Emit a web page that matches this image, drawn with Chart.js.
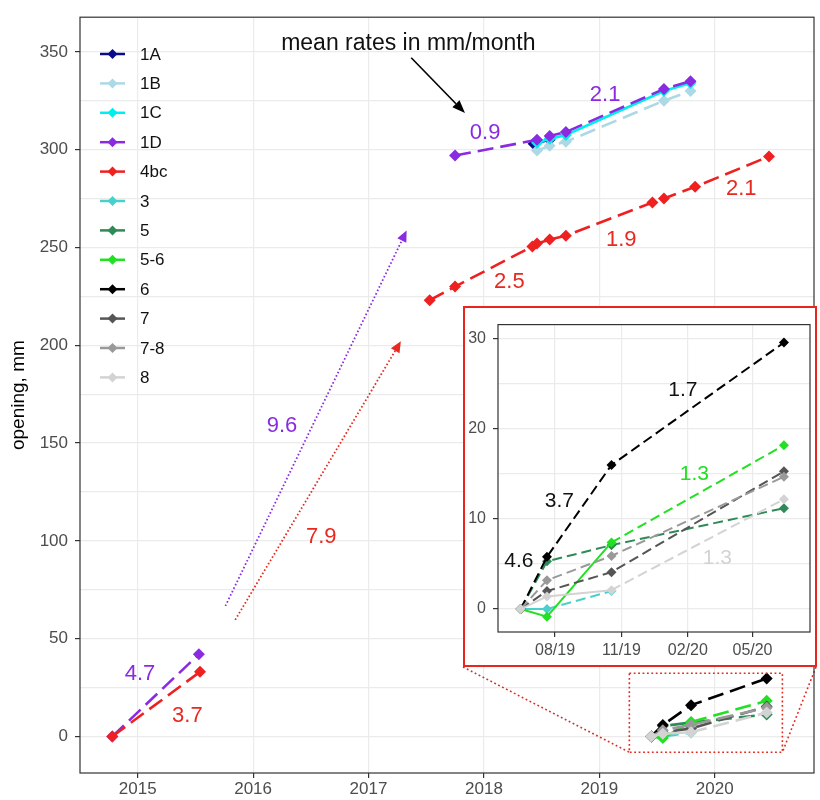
<!DOCTYPE html>
<html><head><meta charset="utf-8">
<script src="https://cdn.jsdelivr.net/npm/chart.js@4"></script>
<style>
html,body{margin:0;padding:0;background:#fff;}
#wrap{position:relative;width:820px;height:800px;overflow:hidden;}
#main{position:absolute;left:0;top:0;}
#insetBox{position:absolute;left:463px;top:306px;width:354px;height:361px;box-sizing:border-box;border:2px solid #E8261E;background:#fff;}
#inset{position:absolute;left:0;top:0;}
</style></head><body>
<div id="wrap">
<canvas id="main" width="820" height="800"></canvas>
<div id="insetBox"><canvas id="inset" width="350" height="357"></canvas></div>
</div>
<script>
// ---------------- data ----------------
const seriesNames = ['1A','1B','1C','1D','4bc','3','5','5-6','6','7','7-8','8'];
const x1A = [2018.43, 2018.57];
const y1A = [303, 305];
const x1B = [2018.46, 2018.57, 2018.71, 2019.56, 2019.79];
const y1B = [299.5, 302, 304, 325, 330];
const x1C = [2018.46, 2018.57, 2018.71, 2019.56, 2019.79];
const y1C = [303.5, 305.5, 307.5, 330, 334];
const x1D = [2014.78, 2015.53, 2017.75, 2018.46, 2018.57, 2018.71, 2019.56, 2019.79];
const y1D = [0, 42, 297, 305, 307, 309, 331, 335];
const x4bc = [2014.78, 2015.54, 2017.53, 2017.75, 2018.42, 2018.46, 2018.57, 2018.71, 2019.46, 2019.56, 2019.83, 2020.47];
const y4bc = [0, 33, 223, 230, 250.5, 252, 254, 256, 273, 275, 281, 296.5];
const xSite = [2019.45, 2019.55, 2019.795, 2020.45];
const y3  = [0, 0, 2.0];
const y5  = [0, 5.3, 7.1, 11.2];
const y56 = [0, -0.85, 7.4, 18.2];
const y6  = [0, 5.8, 16, 29.6];
const y7  = [0, 2.0, 4.1, 15.3];
const y78 = [0, 3.2, 5.9, 14.7];
const y8  = [0, 1.4, 2.1, 12.2];

const yearTicks = [2015, 2016, 2017, 2018, 2019, 2020];
const mainYTicks = [0, 25, 50, 75, 100, 125, 150, 175, 200, 225, 250, 275, 300, 325, 350];
const mainYLabelled = [0, 50, 100, 150, 200, 250, 300, 350];
const insetXTicks = [2019.5808, 2019.8329, 2020.0847, 2020.3306];
const insetXLabels = ['08/19', '11/19', '02/20', '05/20'];
const insetYTicks = [0, 5, 10, 15, 20, 25, 30];
const insetYLabelled = [0, 10, 20, 30];

// ---------------- styles ----------------
const seriesColors = ['#0B0B8A','#ADD8E6','#00EEEE','#8A2BE2','#EE2020','#48D1CC','#2E8B57','#22E022','#000000','#555555','#999999','#D3D3D3'];
const solidSegs = {'1A':'all','1C':'all','3':[0],'5-6':[0,1],'8':[0,1]};
const PURPLE = '#8A2BE2', RED = '#E8291F';
const FONT = '"Liberation Sans", Arial, sans-serif';

const seriesXY = {
  '1A':[x1A,y1A], '1B':[x1B,y1B], '1C':[x1C,y1C], '1D':[x1D,y1D], '4bc':[x4bc,y4bc],
  '3':[xSite,y3], '5':[xSite,y5], '5-6':[xSite,y56], '6':[xSite,y6], '7':[xSite,y7], '7-8':[xSite,y78], '8':[xSite,y8]
};
const insetSeries = ['3','5','5-6','6','7','7-8','8'];

function makeDataset(name, idx, lw, r, dash) {
  const [xs, ys] = seriesXY[name];
  const color = seriesColors[idx];
  const solid = solidSegs[name];
  return {
    label: name,
    data: ys.map((y, i) => ({x: xs[i], y})),
    borderColor: color, backgroundColor: color,
    borderWidth: lw, borderCapStyle: 'butt',
    pointStyle: 'rectRot', pointRadius: r, pointHoverRadius: r, pointBorderWidth: 0,
    tension: 0, fill: false,
    order: seriesNames.length - idx,
    segment: {
      borderDash: ctx => (solid === 'all' || (solid && solid.includes(ctx.p0DataIndex))) ? [] : dash,
      borderColor: ctx => (ctx.p1.parsed.x - ctx.p0.parsed.x > 1 ? 'rgba(0,0,0,0)' : color)
    }
  };
}

function arrow(ctx, x0, y0, x1, y1, color, dash, lw, head, halfW) {
  const a = Math.atan2(y1 - y0, x1 - x0);
  const hx = x1 - head * Math.cos(a), hy = y1 - head * Math.sin(a);
  ctx.save();
  ctx.strokeStyle = color; ctx.lineWidth = lw; ctx.setLineDash(dash);
  ctx.beginPath(); ctx.moveTo(x0, y0); ctx.lineTo(hx, hy); ctx.stroke();
  ctx.setLineDash([]); ctx.fillStyle = color;
  ctx.beginPath(); ctx.moveTo(x1, y1);
  ctx.lineTo(hx + halfW * Math.sin(a), hy - halfW * Math.cos(a));
  ctx.lineTo(hx - halfW * Math.sin(a), hy + halfW * Math.cos(a));
  ctx.closePath(); ctx.fill(); ctx.restore();
}

// annotation config (positions in data units)
const mainTexts = [
  {t:'mean rates in mm/month', x:2017.345, y:354, c:'#111', s:23},
  {t:'0.9', x:2018.01, y:308.6, c:PURPLE},
  {t:'2.1', x:2019.05, y:327.8, c:PURPLE},
  {t:'2.1', x:2020.23, y:279.8, c:RED},
  {t:'1.9', x:2019.19, y:254, c:RED},
  {t:'2.5', x:2018.22, y:232.3, c:RED},
  {t:'9.6', x:2016.25, y:158.6, c:PURPLE},
  {t:'7.9', x:2016.59, y:102, c:RED},
  {t:'4.7', x:2015.02, y:31.8, c:PURPLE},
  {t:'3.7', x:2015.43, y:10.6, c:RED}
];
const insetTexts = [
  {t:'1.7', x:2020.066, y:24.3, c:'#111'},
  {t:'3.7', x:2019.597, y:12.0, c:'#111'},
  {t:'4.6', x:2019.443, y:5.3, c:'#111'},
  {t:'1.3', x:2020.11, y:15.0, c:'#22E022'},
  {t:'1.3', x:2020.197, y:5.7, c:'#D3D3D3'}
];
const rateArrows = [
  {x0:2015.76, y0:66.7, x1:2017.33, y1:258.6, c:PURPLE},
  {x0:2015.845, y0:59.6, x1:2017.28, y1:202, c:RED}
];
const noteArrow = {x0:2017.37, y0:347, x1:2017.836, y1:318.7};
const zoomRect = {x0:2019.26, x1:2020.586, y0:-8.1, y1:32.3};

function drawTexts(chart, list, size) {
  const {ctx, scales: {x, y}} = chart;
  ctx.save();
  ctx.textAlign = 'center'; ctx.textBaseline = 'middle';
  list.forEach(o => {
    ctx.font = (o.s || size) + 'px ' + FONT;
    ctx.fillStyle = o.c;
    ctx.fillText(o.t, x.getPixelForValue(o.x), y.getPixelForValue(o.y));
  });
  ctx.restore();
}

const mainDecor = {
  id: 'mainDecor',
  afterDatasetsDraw(chart) {
    const {ctx, chartArea: a, scales: {x, y}} = chart;
    rateArrows.forEach(r => arrow(ctx, x.getPixelForValue(r.x0), y.getPixelForValue(r.y0),
      x.getPixelForValue(r.x1), y.getPixelForValue(r.y1), r.c, [1.6, 2.2], 1.8, 11, 5));
    arrow(ctx, x.getPixelForValue(noteArrow.x0), y.getPixelForValue(noteArrow.y0),
      x.getPixelForValue(noteArrow.x1), y.getPixelForValue(noteArrow.y1), '#000', [], 1.6, 13, 5);
    const rx0 = x.getPixelForValue(zoomRect.x0), rx1 = x.getPixelForValue(zoomRect.x1);
    const ry0 = y.getPixelForValue(zoomRect.y0), ry1 = y.getPixelForValue(zoomRect.y1);
    const box = document.getElementById('insetBox');
    const bl = box.offsetLeft, br = box.offsetLeft + box.offsetWidth, bb = box.offsetTop + box.offsetHeight;
    ctx.save();
    ctx.strokeStyle = '#E8261E'; ctx.lineWidth = 1.6; ctx.setLineDash([1.8, 2.6]);
    ctx.strokeRect(rx0, ry1, rx1 - rx0, ry0 - ry1);
    ctx.beginPath(); ctx.moveTo(bl, bb); ctx.lineTo(rx0, ry0); ctx.stroke();
    ctx.beginPath(); ctx.moveTo(br - 1, bb); ctx.lineTo(rx1, ry0); ctx.stroke();
    ctx.restore();
    drawTexts(chart, mainTexts, 22);
    ctx.save();
    chart.data.datasets.forEach((ds, i) => {
      const ly = 54 + i * 29.4;
      ctx.strokeStyle = ds.borderColor; ctx.lineWidth = 2.5; ctx.setLineDash([]);
      ctx.beginPath(); ctx.moveTo(100, ly); ctx.lineTo(125, ly); ctx.stroke();
      ctx.fillStyle = ds.backgroundColor;
      ctx.beginPath(); ctx.moveTo(112.5, ly - 5); ctx.lineTo(117.5, ly); ctx.lineTo(112.5, ly + 5); ctx.lineTo(107.5, ly); ctx.closePath(); ctx.fill();
      ctx.fillStyle = '#111'; ctx.font = '17px ' + FONT; ctx.textAlign = 'left'; ctx.textBaseline = 'middle';
      ctx.fillText(ds.label, 140, ly + 1);
    });
    ctx.restore();
  },
  afterDraw(chart) {
    const {ctx, chartArea: a} = chart;
    ctx.save();
    ctx.strokeStyle = '#333'; ctx.lineWidth = 1.2;
    ctx.strokeRect(a.left, a.top, a.right - a.left, a.bottom - a.top);
    ctx.translate(19, (a.top + a.bottom) / 2);
    ctx.rotate(-Math.PI / 2);
    ctx.fillStyle = '#000'; ctx.font = '19px ' + FONT;
    ctx.textAlign = 'center'; ctx.textBaseline = 'middle';
    ctx.fillText('opening, mm', 0, 0);
    ctx.restore();
  }
};

const insetDecor = {
  id: 'insetDecor',
  afterDatasetsDraw(chart) { drawTexts(chart, insetTexts, 21); },
  afterDraw(chart) {
    const {ctx, chartArea: a} = chart;
    ctx.save(); ctx.strokeStyle = '#333'; ctx.lineWidth = 1.2;
    ctx.strokeRect(a.left, a.top, a.right - a.left, a.bottom - a.top);
    ctx.restore();
  }
};

const GRID = '#EBEBEB', TICK = '#4D4D4D';

new Chart(document.getElementById('main'), {
  type: 'line',
  data: { datasets: seriesNames.map((n, i) => makeDataset(n, i, 2.6, 6, [16, 7])) },
  options: {
    responsive: false, animation: false, devicePixelRatio: 1,
    layout: { padding: { top: 8, right: 2, left: 0, bottom: 0 } },
    plugins: { legend: { display: false }, tooltip: { enabled: false } },
    scales: {
      x: {
        type: 'linear', min: 2014.5, max: 2020.86,
        afterBuildTicks: s => { s.ticks = yearTicks.map(v => ({value: v})); },
        afterFit: s => { s.height = 27; },
        ticks: { callback: v => String(v), color: TICK, font: { size: 17, family: FONT }, padding: 1, maxRotation: 0, autoSkip: false },
        grid: { color: GRID, lineWidth: 1.2, tickLength: 5, tickColor: '#333' },
        border: { display: false }
      },
      y: {
        type: 'linear', min: -18.7, max: 367.7,
        afterBuildTicks: s => { s.ticks = mainYTicks.map(v => ({value: v})); },
        afterFit: s => { s.width = 80; },
        ticks: { callback: v => mainYLabelled.includes(v) ? String(v) : '', color: TICK, font: { size: 17, family: FONT }, padding: 7, autoSkip: false },
        grid: { color: GRID, lineWidth: 1.2, tickLength: 5, tickColor: c => mainYLabelled.includes(c.tick && c.tick.value) ? '#333' : 'rgba(0,0,0,0)' },
        border: { display: false }
      }
    }
  },
  plugins: [mainDecor]
});

new Chart(document.getElementById('inset'), {
  type: 'line',
  data: { datasets: insetSeries.map(n => makeDataset(n, seriesNames.indexOf(n), 2, 5, [10, 5])) },
  options: {
    responsive: false, animation: false, devicePixelRatio: 1,
    layout: { padding: { top: 3, right: 1, left: 0, bottom: 0 } },
    plugins: { legend: { display: false }, tooltip: { enabled: false } },
    scales: {
      x: {
        type: 'linear', min: 2019.364, max: 2020.549,
        afterBuildTicks: s => { s.ticks = insetXTicks.map(v => ({value: v})); },
        afterFit: s => { s.height = 33; },
        ticks: { callback: (v, i) => insetXLabels[i], color: TICK, font: { size: 16, family: FONT }, padding: 4, maxRotation: 0, autoSkip: false },
        grid: { color: GRID, lineWidth: 1.2, tickLength: 5, tickColor: '#333' },
        border: { display: false }
      },
      y: {
        type: 'linear', min: -2.55, max: 31.6,
        afterBuildTicks: s => { s.ticks = insetYTicks.map(v => ({value: v})); },
        afterFit: s => { s.width = 33; },
        ticks: { callback: v => insetYLabelled.includes(v) ? String(v) : '', color: TICK, font: { size: 16, family: FONT }, padding: 7, autoSkip: false },
        grid: { color: GRID, lineWidth: 1.2, tickLength: 5, tickColor: c => insetYLabelled.includes(c.tick && c.tick.value) ? '#333' : 'rgba(0,0,0,0)' },
        border: { display: false }
      }
    }
  },
  plugins: [insetDecor]
});
</script>
</body></html>
